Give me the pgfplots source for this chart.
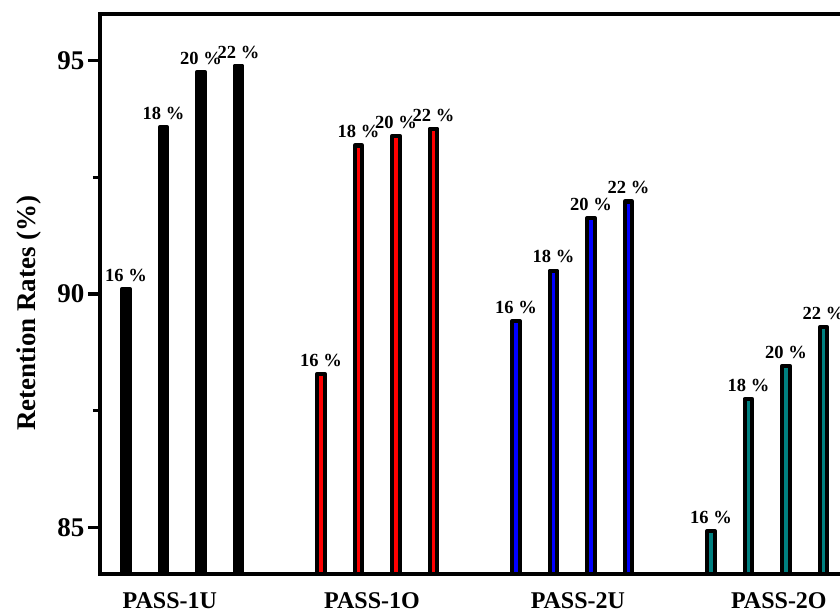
\documentclass[border=0pt]{standalone}
\usepackage{fontspec}
\setmainfont{Liberation Serif}
\usepackage{pgfplots}
\pgfplotsset{compat=1.18}
\definecolor{tealbar}{RGB}{0,128,128}
\begin{document}
\begin{tikzpicture}
\useasboundingbox (0,0) rectangle (840pt,615pt);
\begin{axis}[
  at={(100pt,41pt)}, anchor=south west,
  scale only axis, width=770pt, height=560pt,
  xmin=-0.693, xmax=19.84, ymin=84, ymax=96,
  ybar, bar width=7.5pt, bar shift=0pt,
  axis line style={line width=3.8pt},
  ytick={85,90,95}, minor ytick={87.5,92.5},
  ytick pos=left, tick align=outside,
  major tick length=12pt, minor tick length=7pt,
  every tick/.append style={black, line width=3.2pt},
  xtick={1.17,6.56,12.05,17.41},
  xticklabels={PASS-1U,PASS-1O,PASS-2U,PASS-2O},
  major x tick style={draw=none},
  /pgf/number format/assume math mode=true,
  yticklabel style={font=\fontsize{27}{30}\selectfont\bfseries},
  xticklabel style={font=\fontsize{24}{28}\selectfont\bfseries, yshift=-3pt},
  ylabel={Retention Rates (\%)},
  ylabel style={font=\fontsize{27}{30}\selectfont\bfseries, at={(axis description cs:-0.092,0.466)}, anchor=center},
  point meta=explicit symbolic,
  nodes near coords={\pgfplotspointmeta\ \%},
  every node near coord/.append style={font=\fontsize{18.5}{21}\selectfont\bfseries, black, yshift=2pt},
]
\addplot[fill=black, draw=black, line width=4.2pt, line join=round] table[meta=l] {
x y l
0 90.11 16
1 93.57 18
2 94.76 20
3 94.89 22
};
\addplot[fill=red, draw=black, line width=4.2pt, line join=round] table[meta=l] {
x y l
5.2 88.29 16
6.2 93.18 18
7.2 93.39 20
8.2 93.54 22
};
\addplot[fill=blue, draw=black, line width=4.2pt, line join=round] table[meta=l] {
x y l
10.4 89.42 16
11.4 90.50 18
12.4 91.63 20
13.4 91.98 22
};
\addplot[fill=tealbar, draw=black, line width=4.2pt, line join=round] table[meta=l] {
x y l
15.6 84.92 16
16.6 87.75 18
17.6 88.46 20
18.6 89.29 22
};
\end{axis}
\end{tikzpicture}
\end{document}
